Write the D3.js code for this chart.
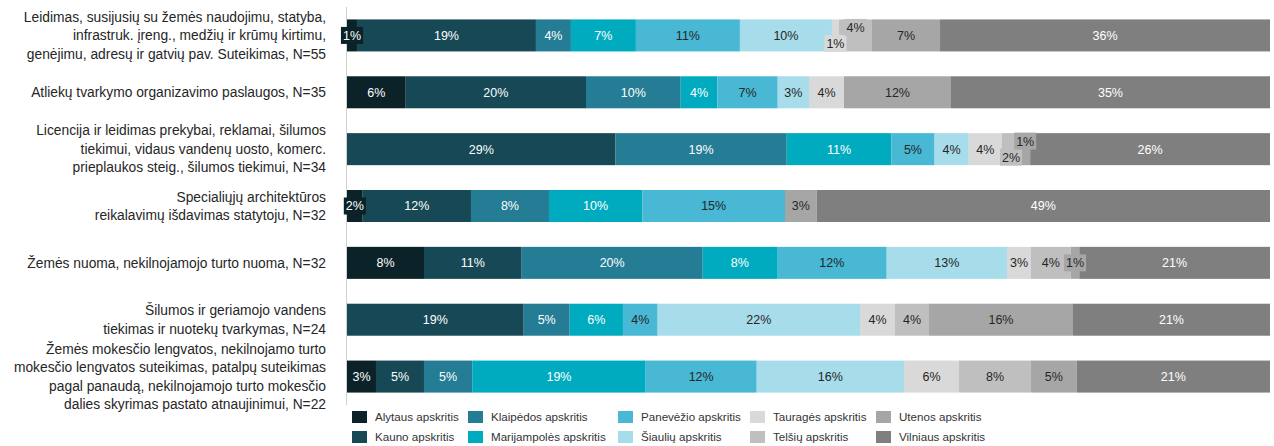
<!DOCTYPE html>
<html>
<head>
<meta charset="utf-8">
<script src="https://cdn.jsdelivr.net/npm/d3@7"></script>
<style>
  body { margin: 0; background: #fff; }
  svg { display: block; font-family: "Liberation Sans", Arial, sans-serif; }
</style>
</head>
<body>
<svg id="chart"></svg>
<script>
var width = 1274,
  height = 446;

// categories (line breaks as in the original)
var categories = [
  "Leidimas, susijusių su žemės naudojimu, statyba,\ninfrastruk. įreng., medžių ir krūmų kirtimu,\ngenėjimu, adresų ir gatvių pav. Suteikimas, N=55",
  "Atliekų tvarkymo organizavimo paslaugos, N=35",
  "Licencija ir leidimas prekybai, reklamai, šilumos\ntiekimui, vidaus vandenų uosto, komerc.\nprieplaukos steig., šilumos tiekimui, N=34",
  "Specialiųjų architektūros\nreikalavimų išdavimas statytoju, N=32",
  "Žemės nuoma, nekilnojamojo turto nuoma, N=32",
  "Šilumos ir geriamojo vandens\ntiekimas ir nuotekų tvarkymas, N=24",
  "Žemės mokesčio lengvatos, nekilnojamo turto\nmokesčio lengvatos suteikimas, patalpų suteikimas\npagal panaudą, nekilnojamojo turto mokesčio\ndalies skyrimas pastato atnaujinimui, N=22"
];

var series = ["Alytaus apskritis", "Kauno apskritis", "Klaipėdos apskritis", "Marijampolės apskritis",
  "Panevėžio apskritis", "Šiaulių apskritis", "Tauragės apskritis", "Telšių apskritis",
  "Utenos apskritis", "Vilniaus apskritis"];

// shares in %, one value per category
var alytaus      = [1.08, 6.36, 0, 1.70, 8.34, 0, 3.14];
var kauno        = [19.39, 19.53, 29.11, 11.73, 10.58, 19.14, 5.20];
var klaipedos    = [3.79, 10.26, 18.56, 8.45, 19.61, 4.98, 5.23];
var marijampoles = [7.04, 3.97, 11.34, 10.11, 8.05, 5.77, 18.79];
var panevezio    = [11.27, 6.54, 4.69, 15.46, 11.88, 3.76, 12.03];
var siauliu      = [9.97, 3.39, 3.7, 0, 13.03, 21.92, 15.96];
var taurages     = [0.76, 3.79, 3.6, 0, 2.60, 3.79, 5.96];
var telsiu       = [3.58, 0, 1.98, 0, 4.30, 3.68, 7.80];
var utenos       = [7.37, 11.59, 1.08, 3.43, 0.93, 15.60, 4.95];
var vilniaus     = [35.75, 34.56, 26.0, 49.11, 20.66, 21.34, 20.94];

var values = [alytaus, kauno, klaipedos, marijampoles, panevezio, siauliu, taurages, telsiu, utenos, vilniaus];

var colors = ["#0c2229", "#164856", "#247d94", "#00abc0", "#48b8d4",
  "#a7dcea", "#d9d9d9", "#bfbfbf", "#a6a6a6", "#7f7f7f"];
var labelColors = ["#fff", "#fff", "#fff", "#fff", "#262626",
  "#262626", "#262626", "#262626", "#262626", "#fff"];

var table = categories.map(function(c, i) {
  var row = { category: c };
  series.forEach(function(s, j) { row[s] = values[j][i]; });
  return row;
});

var stack = d3.stack().keys(series).offset(d3.stackOffsetExpand);
var layers = stack(table);

var x = d3.scaleLinear().domain([0, 1]).range([347, 1270]);
var y = d3.scaleBand().domain(categories).range([7, 405]).paddingInner(0.437).paddingOuter(0.2185);
var color = d3.scaleOrdinal().domain(series).range(colors);

var svg = d3.select("#chart").attr("width", width).attr("height", height);

// bars
svg.selectAll(".layer").data(layers)
  .enter().append("g")
  .attr("class", "layer")
  .attr("fill", function(d) { return color(d.key); })
  .selectAll("rect").data(function(d) { return d; })
  .enter().append("rect")
  .attr("x", function(d) { return x(d[0]); })
  .attr("y", function(d) { return y(d.data.category); })
  .attr("width", function(d) { return Math.max(0, x(d[1]) - x(d[0])); })
  .attr("height", y.bandwidth());

// vertical axis line
svg.append("line")
  .attr("x1", 346.5).attr("x2", 346.5)
  .attr("y1", 7).attr("y2", 405)
  .attr("stroke", "#d0d0d0");

// category labels
var lineH = 18.5;
categories.forEach(function(c) {
  var lines = c.split("\n");
  var cy = y(c) + y.bandwidth() / 2;
  var t = svg.append("text")
    .attr("text-anchor", "end")
    .attr("font-size", 13.8)
    .attr("fill", "#262626");
  lines.forEach(function(l, k) {
    t.append("tspan")
      .attr("x", 326)
      .attr("y", cy + (k - (lines.length - 1) / 2) * lineH)
      .attr("dy", "0.35em")
      .text(l);
  });
});

// data labels
var labelG = svg.append("g").attr("font-size", 12.5);
categories.forEach(function(c, i) {
  var cy = y(c) + y.bandwidth() / 2;
  var items = [];
  layers.forEach(function(layer, j) {
    var d = layer[i];
    var v = values[j][i];
    if (!v) return;
    var x0 = x(d[0]), x1 = x(d[1]);
    var t = labelG.append("text")
      .attr("text-anchor", "middle")
      .attr("fill", labelColors[j])
      .text(Math.round(v) + "%");
    var w = t.node().getComputedTextLength();
    items.push({ t: t, j: j, cx: (x0 + x1) / 2, w: w, seg: x1 - x0, dy: 0, box: false });
  });
  // small overlapping labels: move the earlier down and the later up
  for (var k = 1; k < items.length; k++) {
    var a = items[k - 1], b = items[k];
    if (a.cx + a.w / 2 + 2.5 > b.cx - b.w / 2 - 2.5) {
      a.dy = 8; b.dy = -8;
      a.box = true; b.box = true;
    }
  }
  items.forEach(function(it) {
    if (it.w + 2 > it.seg) it.box = true;
    if (it.box) {
      labelG.insert("rect", function() { return it.t.node(); })
        .attr("x", it.cx - it.w / 2 - 2)
        .attr("y", cy + it.dy - 8.5)
        .attr("width", it.w + 4)
        .attr("height", 17)
        .attr("fill", colors[it.j]);
    }
    it.t.attr("x", it.cx).attr("y", cy + it.dy).attr("dy", "0.35em");
  });
});

// legend
var legendX = [352, 468, 618, 750, 876];
var legendY = [417, 437];
var legend = svg.append("g").attr("font-size", 11.6);
series.forEach(function(s, i) {
  var col = Math.floor(i / 2), row = i % 2;
  var g = legend.append("g")
    .attr("transform", "translate(" + legendX[col] + "," + legendY[row] + ")");
  g.append("rect")
    .attr("x", 0).attr("y", -6)
    .attr("width", 15).attr("height", 12)
    .attr("fill", color(s));
  g.append("text")
    .attr("x", 23).attr("y", 0).attr("dy", "0.35em")
    .attr("fill", "#333")
    .text(s);
});
</script>
</body>
</html>
